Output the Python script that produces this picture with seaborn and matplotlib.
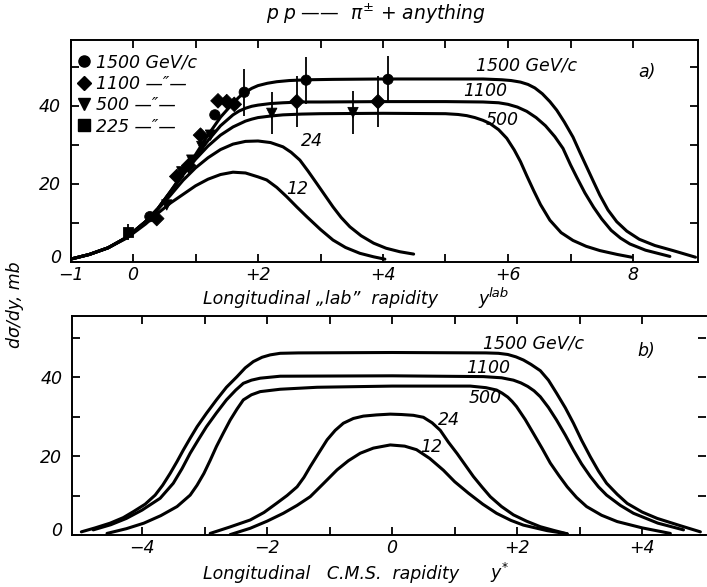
import matplotlib
matplotlib.use("Agg")
import matplotlib.pyplot as plt
import matplotlib.transforms as mtransforms
import numpy as np
import pandas as pd
import seaborn as sns
from matplotlib.lines import Line2D

# ---------------- lab-frame distributions (panel a) ----------------
lab_12_y = [-1.0, -0.7, -0.4, -0.1, 0.2, 0.4, 0.6, 0.8, 1.0, 1.2, 1.4, 1.6, 1.8, 2.0,
            2.14, 2.3, 2.46, 2.62, 2.78, 3.0, 3.2, 3.4, 3.63, 3.85, 4.03]
lab_12_v = [0.6, 1.8, 3.5, 6.0, 9.6, 12.4, 15.0, 17.2, 19.4, 21.1, 22.3, 22.9, 22.7, 21.7,
            20.9, 19.0, 16.6, 14.0, 11.5, 8.2, 5.5, 3.6, 2.1, 1.2, 0.6]

lab_24_y = [-1.0, -0.7, -0.4, -0.1, 0.2, 0.4, 0.6, 0.8, 1.0, 1.2, 1.4, 1.6, 1.8, 2.0,
            2.2, 2.4, 2.53, 2.67, 2.8, 2.94, 3.07, 3.2, 3.33, 3.47, 3.65, 3.85, 4.05,
            4.27, 4.49]
lab_24_v = [0.6, 1.8, 3.5, 6.2, 10.2, 13.4, 17.0, 20.8, 24.0, 26.6, 28.7, 30.1, 30.8, 30.9,
            30.5, 29.4, 28.0, 26.0, 23.2, 20.0, 17.0, 14.0, 11.3, 8.9, 6.6, 4.7, 3.4,
            2.5, 1.9]

lab_500_y = [-1.0, -0.7, -0.4, -0.1, 0.2, 0.4, 0.6, 0.8, 1.0, 1.2, 1.4, 1.6, 1.8, 1.9,
             2.0, 2.2, 2.4, 2.7, 3.0, 4.0, 5.0, 5.2, 5.34, 5.47, 5.6, 5.71, 5.85, 5.98,
             6.1, 6.2, 6.3, 6.41, 6.52, 6.67, 6.85, 7.04, 7.25, 7.47, 7.75, 7.98]
lab_500_v = [0.6, 1.8, 3.5, 6.2, 10.2, 13.6, 17.8, 22.2, 26.2, 29.6, 32.4, 34.5, 36.0, 36.5,
             36.9, 37.3, 37.6, 37.8, 37.9, 38.0, 37.9, 37.7, 37.4, 36.9, 36.2, 35.4, 33.8, 31.6,
             28.6, 25.6, 22.0, 18.2, 14.6, 10.6, 7.4, 5.4, 3.9, 2.8, 1.8, 1.1]

lab_1100_y = [-1.0, -0.7, -0.4, -0.1, 0.2, 0.4, 0.6, 0.8, 1.0, 1.2, 1.4, 1.6, 1.7, 1.8,
              1.9, 2.0, 2.2, 2.4, 2.7, 3.0, 4.0, 5.0, 5.6, 5.85, 6.0, 6.15, 6.3, 6.45,
              6.6, 6.75, 6.88, 7.0, 7.1, 7.23, 7.37, 7.5, 7.65, 7.8, 7.95, 8.2, 8.59]
lab_1100_v = [0.6, 1.8, 3.5, 6.2, 10.2, 13.6, 17.9, 22.4, 26.8, 31.0, 34.8, 37.6, 38.6, 39.3,
              39.8, 40.1, 40.5, 40.7, 40.9, 40.9, 41.0, 41.0, 40.9, 40.7, 40.3, 39.6, 38.5, 36.9,
              34.8, 32.0, 29.0, 24.8, 21.6, 17.6, 13.9, 10.9, 8.0, 6.0, 4.5, 2.9, 1.3]

lab_1500_y = [-1.0, -0.7, -0.4, -0.1, 0.2, 0.4, 0.6, 0.8, 1.0, 1.2, 1.4, 1.6, 1.7, 1.8,
              1.9, 2.0, 2.15, 2.3, 2.5, 2.8, 3.2, 4.0, 5.0, 5.6, 5.9, 6.05, 6.2, 6.32,
              6.43, 6.55, 6.67, 6.78, 6.9, 7.04, 7.15, 7.26, 7.37, 7.47, 7.6, 7.74, 7.9,
              8.1, 8.35, 8.64, 9.0]
lab_1500_v = [0.6, 1.8, 3.5, 6.2, 10.2, 13.6, 18.0, 22.6, 27.4, 32.4, 37.0, 40.6, 42.2, 43.4,
              44.4, 45.1, 45.7, 46.1, 46.4, 46.6, 46.7, 46.8, 46.8, 46.8, 46.6, 46.4, 46.0, 45.4,
              44.5, 43.0, 41.0, 38.8, 35.8, 31.9, 28.0, 24.2, 20.4, 17.0, 13.2, 10.2, 7.8,
              5.7, 4.1, 2.8, 1.1]

# ---------------- c.m.s. distributions (panel b) ----------------
cms_12_y = [-2.59, -2.27, -2.0, -1.74, -1.52, -1.31, -1.1, -0.88, -0.7, -0.51, -0.3, -0.03,
            0.2, 0.39, 0.6, 0.82, 1.0, 1.22, 1.45, 1.67, 1.9, 2.1, 2.48, 2.8]
cms_12_v = [0.1, 1.7, 3.5, 5.5, 7.5, 9.7, 13.0, 16.5, 18.8, 20.7, 22.0, 22.8,
            22.5, 21.6, 19.4, 16.4, 13.5, 10.6, 7.8, 5.5, 3.7, 2.5, 1.1, 0.3]

cms_24_y = [-2.91, -2.6, -2.27, -2.05, -1.85, -1.68, -1.52, -1.41, -1.31, -1.18, -1.04,
            -0.91, -0.78, -0.62, -0.46, -0.25, -0.03, 0.15, 0.34, 0.5, 0.64, 0.77, 0.9,
            1.04, 1.17, 1.3, 1.44, 1.57, 1.75, 1.94, 2.15, 2.37, 2.6, 2.8]
cms_24_v = [0.4, 2.0, 3.8, 5.7, 8.0, 10.0, 12.2, 14.6, 17.3, 20.6, 24.1,
            26.5, 28.3, 29.5, 30.1, 30.4, 30.6, 30.5, 30.3, 29.8, 28.4, 26.5, 23.5,
            20.6, 17.7, 14.8, 12.1, 9.7, 7.2, 5.1, 3.5, 2.1, 1.1, 0.3]

cms_500_y = [-4.56, -4.25, -3.97, -3.7, -3.44, -3.23, -3.12, -3.01, -2.91, -2.81, -2.7,
             -2.59, -2.48, -2.38, -2.25, -2.11, -1.79, -1.2, 0.0, 1.25, 1.5, 1.67, 1.76,
             1.85, 1.92, 1.99, 2.13, 2.26, 2.4, 2.53, 2.67, 2.8, 2.95, 3.11, 3.35, 3.6,
             4.0, 4.45]
cms_500_v = [0.4, 1.6, 3.0, 4.9, 7.2, 10.1, 12.6, 15.6, 18.9, 22.4, 25.8,
             29.1, 31.9, 34.2, 35.5, 36.3, 36.9, 37.4, 37.7, 37.7, 37.3, 36.7, 35.9,
             34.9, 33.8, 32.5, 29.2, 25.7, 21.9, 18.2, 15.0, 12.2, 9.5, 7.2, 5.0, 3.4,
             1.8, 0.4]

cms_1100_y = [-4.78, -4.5, -4.25, -4.0, -3.71, -3.5, -3.36, -3.23, -3.1, -2.97, -2.81,
              -2.65, -2.5, -2.38, -2.25, -2.11, -1.79, 0.0, 1.46, 1.75, 1.94, 2.06, 2.17,
              2.27, 2.37, 2.5, 2.63, 2.77, 2.9, 3.03, 3.17, 3.3, 3.43, 3.65, 3.86, 4.25,
              4.66]
cms_1100_v = [1.3, 2.6, 4.2, 6.3, 9.3, 13.1, 16.8, 20.7, 24.1, 27.4, 30.9,
              34.2, 36.7, 38.4, 39.2, 39.7, 40.2, 40.3, 40.1, 39.8, 39.2, 38.5, 37.6,
              36.5, 35.0, 32.3, 29.1, 25.3, 21.5, 18.0, 14.8, 12.2, 10.1, 7.5, 5.5, 3.0,
              1.3]

cms_1500_y = [-4.97, -4.75, -4.51, -4.3, -4.14, -3.95, -3.79, -3.67, -3.55, -3.44, -3.34,
              -3.23, -3.12, -2.97, -2.81, -2.65, -2.48, -2.35, -2.22, -2.08, -1.95, -1.79,
              -1.5, 0.0, 1.5, 1.7, 1.85, 1.98, 2.1, 2.22, 2.37, 2.5, 2.63, 2.77, 2.9, 3.03,
              3.17, 3.3, 3.43, 3.6, 3.76, 4.0, 4.24, 4.6, 4.93]
cms_1500_v = [0.8, 1.8, 3.0, 4.4, 5.9, 7.8, 10.1, 12.6, 15.6, 18.6, 21.5,
              24.5, 27.4, 30.8, 34.2, 37.4, 40.1, 42.3, 43.9, 45.0, 45.6, 46.0,
              46.1, 46.2, 46.1, 46.0, 45.7, 45.1, 44.3, 43.2, 41.6, 39.2, 35.9, 32.2, 28.3,
              24.0, 19.8, 16.2, 13.1, 10.3, 8.0, 5.8, 4.2, 2.4, 0.8]

# ---------------- measured points (panel a) ----------------
pts_1500_y = [0.27, 1.31, 1.78, 2.77, 4.08]
pts_1500_v = [11.5, 37.6, 43.4, 46.5, 46.7]
pts_1500_e = [0.0, 0.0, 6.0, 6.0, 6.0]

pts_1100_y = [0.38, 0.70, 0.89, 1.08, 1.36, 1.50, 1.62, 2.62, 3.92]
pts_1100_v = [11.0, 21.8, 24.6, 32.4, 41.2, 41.0, 40.3, 41.0, 41.0]
pts_1100_e = [0.0, 0.0, 0.0, 0.0, 0.0, 0.0, 0.0, 6.5, 6.5]

pts_500_y = [0.54, 0.78, 0.94, 1.10, 1.24, 2.22, 3.52]
pts_500_v = [14.5, 23.0, 26.0, 29.5, 32.4, 38.0, 38.2]
pts_500_e = [0.0, 0.0, 0.0, 0.0, 0.0, 5.4, 5.5]

pts_225_y = [-0.08]
pts_225_v = [7.6]
pts_225_e = [2.0]

beam_labels = ["1500", "1100", "500", "225"]
legend_texts = ["1500 GeV/c", "1100 —\u2033—", "500 —\u2033—", "225 —\u2033—"]
beam_markers = {"1500": "o", "1100": "D", "500": "v", "225": "s"}


def curves_frame(pairs):
    rows = []
    for name, xs, vs in pairs:
        for x, v in zip(xs, vs):
            rows.append({"curve": name, "y": x, "v": v})
    return pd.DataFrame(rows)


lab = curves_frame([
    ("12", lab_12_y, lab_12_v), ("24", lab_24_y, lab_24_v),
    ("500", lab_500_y, lab_500_v), ("1100", lab_1100_y, lab_1100_v),
    ("1500", lab_1500_y, lab_1500_v),
])
cms = curves_frame([
    ("12", cms_12_y, cms_12_v), ("24", cms_24_y, cms_24_v),
    ("500", cms_500_y, cms_500_v), ("1100", cms_1100_y, cms_1100_v),
    ("1500", cms_1500_y, cms_1500_v),
])

pts = pd.concat([
    pd.DataFrame({"beam": b, "y": ys, "v": vs, "err": es})
    for b, ys, vs, es in [
        ("1500", pts_1500_y, pts_1500_v, pts_1500_e),
        ("1100", pts_1100_y, pts_1100_v, pts_1100_e),
        ("500", pts_500_y, pts_500_v, pts_500_e),
        ("225", pts_225_y, pts_225_v, pts_225_e),
    ]
], ignore_index=True)

# ---------------- styling ----------------
sns.set_theme(style="ticks")
plt.rcParams.update({
    "font.family": ["DejaVu Sans"],
    "font.style": "italic",
    "mathtext.fontset": "dejavusans",
    "mathtext.default": "it",
    "axes.linewidth": 1.4,
    "axes.edgecolor": "black",
    "text.color": "black",
    "xtick.color": "black",
    "ytick.color": "black",
    "lines.solid_joinstyle": "round",
    "lines.solid_capstyle": "round",
})
FS = 12.5
W, H = 707, 587

fig = plt.figure(figsize=(W / 100, H / 100), dpi=100)
fig.patch.set_facecolor("white")

ax1 = fig.add_axes([70.5 / W, 1 - 261.5 / H, (698 - 70.5) / W, (261.5 - 40) / H])
ax2 = fig.add_axes([72 / W, 1 - 535 / H, (706 - 72) / W, (535 - 316) / H])

LW = 2.2
sns.lineplot(data=lab, x="y", y="v", units="curve", estimator=None, sort=False,
             color="black", lw=LW, ax=ax1, legend=False)
sns.lineplot(data=cms, x="y", y="v", units="curve", estimator=None, sort=False,
             color="black", lw=LW, ax=ax2, legend=False)

# error bars, then markers on top
err = pts[pts["err"] > 0]
ax1.errorbar(err["y"], err["v"], yerr=err["err"], fmt="none", ecolor="black",
             elinewidth=1.3, capsize=0, zorder=3)
sns.scatterplot(data=pts, x="y", y="v", style="beam", markers=beam_markers,
                style_order=beam_labels, color="black", edgecolor="black",
                s=55, ax=ax1, legend=False, zorder=4)

handles = [Line2D([], [], ls="", marker=beam_markers[b], color="black",
                  markersize=8 if b != "1100" else 7.5) for b in beam_labels]
ax1.legend(handles, legend_texts, loc="upper left",
           bbox_to_anchor=(0.0, 0.98), frameon=False, fontsize=FS,
           handlelength=0.6, handletextpad=0.35, labelspacing=0.2,
           borderaxespad=0.3, borderpad=0.2)

# axes, ticks
ax1.set_xlim(-1.0, 9.04)
ax1.set_ylim(0, (261.5 - 40) / 3.9)
ax2.set_xlim(-5.12, 5.02)
ax2.set_ylim(0, (535 - 316) / 3.95)

ax1.set_xticks(range(-1, 9))
ax1.set_xticklabels(["\u22121", "0", "", "+2", "", "+4", "", "+6", "", "8"])
ax2.set_xticks(range(-4, 5))
ax2.set_xticklabels(["\u22124", "", "\u22122", "", "0", "", "+2", "", "+4"])
for ax in (ax1, ax2):
    ax.set_yticks(range(0, 60, 10))
    ax.set_yticklabels(["0", "", "20", "", "40", ""])
    ax.tick_params(direction="in", length=6, width=1.3, top=True, right=True,
                   labelsize=FS, pad=7)
    ax.tick_params(axis="x", pad=3)
    ax.set_xlabel("")
    ax.set_ylabel("")
    ax.set_facecolor("white")
ax2.spines["right"].set_visible(False)

# the zero labels sit slightly above the bottom spine
lift = mtransforms.ScaledTranslation(0, 4 / 72, fig.dpi_scale_trans)
for ax in (ax1, ax2):
    zero_lbl = ax.get_yticklabels()[0]
    zero_lbl.set_transform(zero_lbl.get_transform() + lift)

# curve annotations
ax1.text(6.29, 50.3, "1500 GeV/c", fontsize=FS, ha="center", va="center")
ax1.text(5.63, 43.6, "1100", fontsize=FS, ha="center", va="center")
ax1.text(5.90, 36.4, "500", fontsize=FS, ha="center", va="center")
ax1.text(2.86, 30.8, "24", fontsize=FS, ha="center", va="center")
ax1.text(2.62, 18.5, "12", fontsize=FS, ha="center", va="center")
ax1.text(8.23, 48.7, "a)", fontsize=FS, ha="center", va="center")

ax2.text(2.26, 48.5, "1500 GeV/c", fontsize=FS, ha="center", va="center")
ax2.text(1.54, 42.4, "1100", fontsize=FS, ha="center", va="center")
ax2.text(1.49, 34.6, "500", fontsize=FS, ha="center", va="center")
ax2.text(0.91, 29.2, "24", fontsize=FS, ha="center", va="center")
ax2.text(0.62, 22.2, "12", fontsize=FS, ha="center", va="center")
ax2.text(4.06, 46.7, "b)", fontsize=FS, ha="center", va="center")

# titles and axis captions
fig.text(376 / W, 1 - 14 / H, r"$p\;p$ ——  $\pi^{\pm}$ + anything", fontsize=13.5,
         ha="center", va="center")
fig.text(203 / W, 1 - 304 / H, "Longitudinal „lab\u201d  rapidity", fontsize=FS,
         ha="left", va="baseline")
fig.text(478 / W, 1 - 304 / H, "y", fontsize=FS, ha="left", va="baseline")
fig.text(489 / W, 1 - 297 / H, "lab", fontsize=9.5, ha="left", va="baseline")
fig.text(203 / W, 1 - 579 / H, "Longitudinal   C.M.S.  rapidity", fontsize=FS,
         ha="left", va="baseline")
fig.text(490 / W, 1 - 579 / H, "$y^{*}$", fontsize=FS, ha="left", va="baseline")
fig.text(15 / W, 1 - 305 / H, "dσ/dy, mb", fontsize=FS, rotation=90,
         ha="center", va="center")

fig.savefig("out.png", dpi=100, facecolor="white")
